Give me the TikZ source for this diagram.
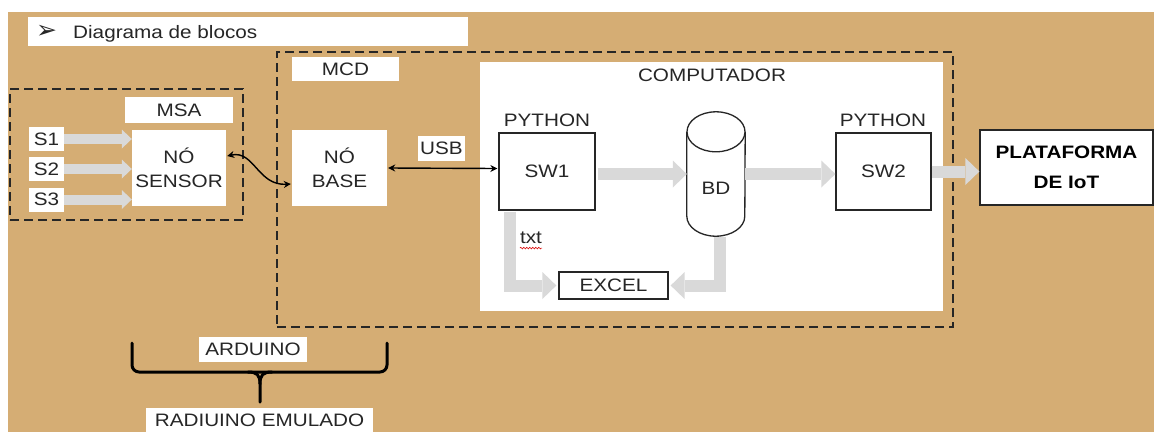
\documentclass[tikz,border=0pt]{standalone}
\usepackage{fontspec}
\setmainfont{Liberation Sans}[FakeStretch=1.15]
\newfontfamily\symfont{DejaVu Sans}
\usetikzlibrary{arrows.meta,calc,decorations.pathmorphing}
\definecolor{tanbg}{HTML}{D5AD74}
\definecolor{lgray}{HTML}{D9D9D9}
\definecolor{ink}{HTML}{262626}
\begin{document}
\begin{tikzpicture}[x=1pt,y=-1pt,
  font=\fontsize{18}{24}\selectfont,
  lbl/.style={fill=white, inner sep=0pt, text=ink, align=center},
  txtonly/.style={inner sep=0pt, text=ink, align=center},
  blk/.style={fill=white, draw=ink, line width=1.3pt, inner sep=0pt, text=ink, align=center},
  dbox/.style={draw=ink, line width=1.6pt, dash pattern=on 9pt off 5pt, inner sep=0pt},
  garr/.style={draw=lgray, line width=12pt, line join=miter, -{Triangle[width=27pt,length=14pt,line width=0pt]}},
  sarr/.style={draw=lgray, line width=10pt, -{Triangle[width=19pt,length=10pt,line width=0pt]}},
  link/.style={draw=black, line width=1.4pt, {Stealth[length=7pt,width=7pt]}-{Stealth[length=7pt,width=7pt]}},
  brace/.style={draw=black, line width=3pt, line cap=round},
]
\useasboundingbox (0,0) rectangle (1154,432);
\fill[tanbg] (8,12) rectangle (1154,432);

% title
\node[lbl, minimum width=440pt, minimum height=29pt] (titlebox) at (248,31.5) {};
\node[txtonly, font=\symfont\fontsize{25}{26}\selectfont] (bullet) at (46.5,31.5) {➢};
\node[txtonly, anchor=base west] (title) at (73,38) {Diagrama de blocos};

% dashed groups
\node[dbox, minimum width=676pt, minimum height=275pt] (mcd) at (615,189.5) {};
\node[dbox, minimum width=233pt, minimum height=131pt] (msa) at (126.5,154.5) {};
\node[lbl, minimum width=107pt, minimum height=24pt] (mcdlbl) at (345.5,69) {MCD};
\node[lbl, minimum width=108pt, minimum height=26pt] (msalbl) at (179,110) {MSA};

% computer area
\node[fill=white, inner sep=0pt, minimum width=463pt, minimum height=249pt] (comp) at (711.5,186.5) {};
\node[txtonly] (complbl) at (712,75) {COMPUTADOR};

% sensors
\node[lbl, minimum width=35pt, minimum height=24pt] (s1) at (46.5,139) {S1};
\node[lbl, minimum width=35pt, minimum height=24pt] (s2) at (46.5,169) {S2};
\node[lbl, minimum width=35pt, minimum height=24pt] (s3) at (46.5,199.5) {S3};
\node[lbl, minimum width=94pt, minimum height=76pt] (sensor) at (179,168) {NÓ\\SENSOR};
\node[lbl, minimum width=95pt, minimum height=76pt] (base) at (339.5,168) {NÓ\\BASE};
\node[lbl, minimum width=47pt, minimum height=25pt] (usb) at (441.5,148.5) {USB};

% software blocks
\node[txtonly] (py1) at (547,120.5) {PYTHON};
\node[txtonly] (py2) at (883,120.5) {PYTHON};
\node[blk, minimum width=96pt, minimum height=77pt] (sw1) at (547,171.5) {SW1};
\node[blk, minimum width=95pt, minimum height=77pt] (sw2) at (883.5,171.5) {SW2};
\node[blk, minimum width=109pt, minimum height=27pt] (excel) at (613.5,285.5) {EXCEL};
\node[blk, minimum width=173pt, minimum height=75pt, text=black, font=\bfseries\fontsize{18}{30}\selectfont] (plat) at (1066.5,167.5) {PLATAFORMA\\DE IoT};
\node[txtonly] (txt) at (531,238) {txt};
\draw[red!85!black, line width=0.6pt, decorate, decoration={snake, amplitude=0.8pt, segment length=3pt}] ($(txt.south west)+(0,4)$) -- ($(txt.south east)+(0,4)$);

% database cylinder
\node[inner sep=0pt, minimum width=58pt, minimum height=124pt] (bd) at (716,174) {};
\path[fill=white, draw=ink, line width=1.3pt] ($(bd.north west)+(0,20)$) -- ($(bd.south west)+(0,-20)$) arc[start angle=180, end angle=0, x radius=29, y radius=20] -- ($(bd.north east)+(0,20)$);
\path[fill=white, draw=ink, line width=1.3pt] ($(bd.north)+(0,20)$) ellipse [x radius=29, y radius=20];
\node[txtonly] (bdtxt) at (716,188) {BD};

% gray flow arrows
\draw[sarr] (s1.east) -- (sensor.west |- s1.east);
\draw[sarr] (s2.east) -- (sensor.west |- s2.east);
\draw[sarr] (s3.east) -- (sensor.west |- s3.east);
\draw[garr] ($(sw1.east |- bd.center)+(2,0)$) -- (bd.west);
\draw[garr] (bd.east) -- (sw2.west |- bd.center);
\draw[garr] (sw2.east) -- (plat.west |- sw2.east);
\draw[garr] ($(sw1.south west)+(12,1)$) |- ($(excel.west)+(-2,0)$);
\draw[garr] ($(bd.south)+(4,1)$) |- ($(excel.east)+(2,0)$);

% links
\draw[link] ($(sensor.east)+(1,-12)$) .. controls ($(sensor.east)+(28,-18)$) and ($(base.west)+(-34,18)$) .. ($(base.west)+(-1,16)$);
\draw[link] ($(base.east)+(1,0)$) -- ($(sw1.west)+(-1,-3)$ |- base.east);

% brace
\coordinate (bl) at (132,343);
\coordinate (br) at (387,343);
\coordinate (bm) at (260,402);
\draw[brace, rounded corners=7pt] (bl) -- (bl |- 0,372) -- (br |- 0,372) -- (br);
\draw[brace] (248,372) .. controls (257,372) and (260,375) .. (260,384) -- (bm);
\draw[brace] (272,372) .. controls (263,372) and (260,375) .. (260,384);
\node[lbl, minimum width=108pt, minimum height=25pt] (ard) at (253,349.5) {ARDUINO};
\node[lbl, minimum width=227pt, minimum height=24pt] (rad) at (259.5,420) {RADIUINO EMULADO};
\end{tikzpicture}
\end{document}
